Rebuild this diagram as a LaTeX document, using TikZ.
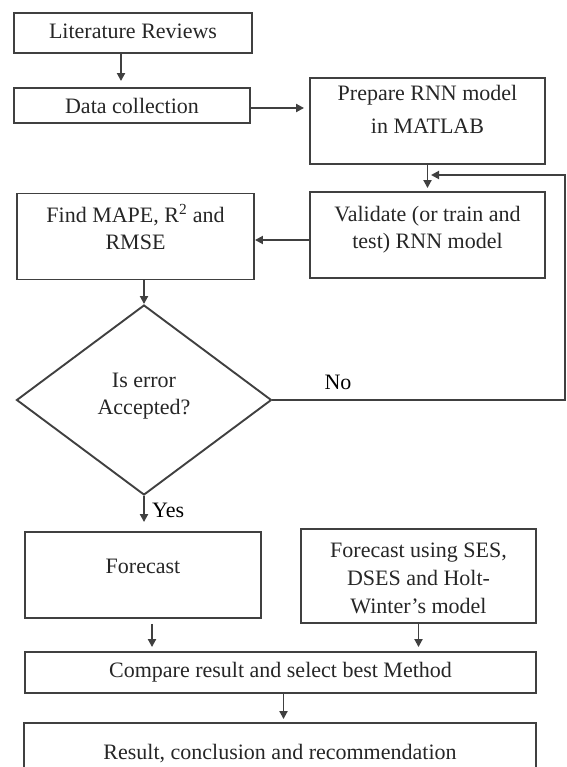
\documentclass[tikz,border=0pt]{standalone}
\usepackage{fontspec}
\setmainfont{Liberation Serif}
\usetikzlibrary{arrows.meta,shapes.geometric}

% Puntales para colocar el texto dentro de las cajas
\newcommand{\tope}[1]{\rule{0pt}{#1pt}}
\newcommand{\fondo}[1]{\rule[-#1pt]{0pt}{#1pt}}

\tikzset{
  caja/.style={draw=black!75, line width=1.9pt, inner xsep=4pt, inner ysep=0pt, align=center, text=black!85},
  decision/.style={diamond, draw=black!75, line width=1.9pt, inner sep=0pt, align=center, text=black!85,
    minimum width=255pt, minimum height=190pt},
  flecha/.style={draw=black!75, line width=1.9pt, -{Triangle[length=8pt,width=8pt]}}
}

\begin{document}
\begin{tikzpicture}[x=1pt, y=-1pt, font=\fontsize{22}{27}\selectfont]
\useasboundingbox (0,0) rectangle (566,767);

% Dibuja las cajas
\node[caja, minimum width=238pt] (lit) at (133,33) {\tope{26}\fondo{14}Literature Reviews};
\node[caja, minimum width=236pt] (data) at (132,105.5) {\tope{26}\fondo{9}Data collection};
\node[caja, minimum width=235pt] (prep) at (427.5,121) {\tope{23}Prepare RNN model\\[6pt]in MATLAB\fondo{30}};
\node[caja, minimum width=235pt] (valid) at (427.5,235) {\tope{29}Validate (or train and\\test) RNN model\fondo{30}};
\node[caja, minimum width=237pt] (find) at (135.5,236.5) {\tope{29}Find MAPE, R\textsuperscript{2} and\\RMSE\fondo{30}};
\node[caja, minimum width=236pt] (fc) at (143,575) {\tope{41}\fondo{45}Forecast};
\node[caja, minimum width=235pt] (ses) at (418.5,576) {\tope{28}Forecast using SES,\\[1pt]DSES and Holt-\\[1pt]Winter’s model\fondo{10}};
\node[caja, minimum width=511pt] (comp) at (280.5,672.5) {\tope{25}\fondo{16}Compare result and select best Method};
\node[caja, minimum width=512pt] (res) at (280,753) {\tope{36}\fondo{24}Result, conclusion and recommendation};

% Dibuja el rombo de decision
\node[decision] (dec) at (144,400) {Is error\\Accepted?\fondo{12}};

% Etiquetas
\node (no) at (338,382) {No};
\node[anchor=west, inner sep=0pt] (si) at (152,510) {Yes};

% Dibuja las flechas
\draw[flecha, shorten >=6pt] ([xshift=-12pt]lit.south) -- ([xshift=-12pt]lit.south |- data.north);
\draw[flecha, shorten >=5pt] ([yshift=-2.5pt]data.east) -- ([yshift=-2.5pt]data.east -| prep.west);
\draw[flecha, shorten >=3pt] (prep.south) -- (valid.north);
\draw[flecha] ([yshift=-5pt]valid.west) -- ([yshift=-5pt]valid.west -| find.east);
\draw[flecha] (dec.north |- find.south) -- (dec.north);
\draw[flecha] (dec.south) -- ([yshift=9pt]dec.south |- fc.north);
\draw[flecha, shorten <=5pt, shorten >=4pt] ([xshift=9pt]fc.south) -- ([xshift=9pt]fc.south |- comp.north);
\draw[flecha, shorten >=4pt] (ses.south) -- (ses.south |- comp.north);
\draw[flecha, shorten >=3pt] ([xshift=3pt]comp.south) -- ([xshift=3pt]comp.south |- res.north);

% Vuelta cuando el error no se acepta
\coordinate (esq) at (565,175);
\coordinate (fin) at (431,175);
\draw[flecha] (dec.east) -- (dec.east -| esq) -- (esq) -- (fin);

\end{tikzpicture}
\end{document}
